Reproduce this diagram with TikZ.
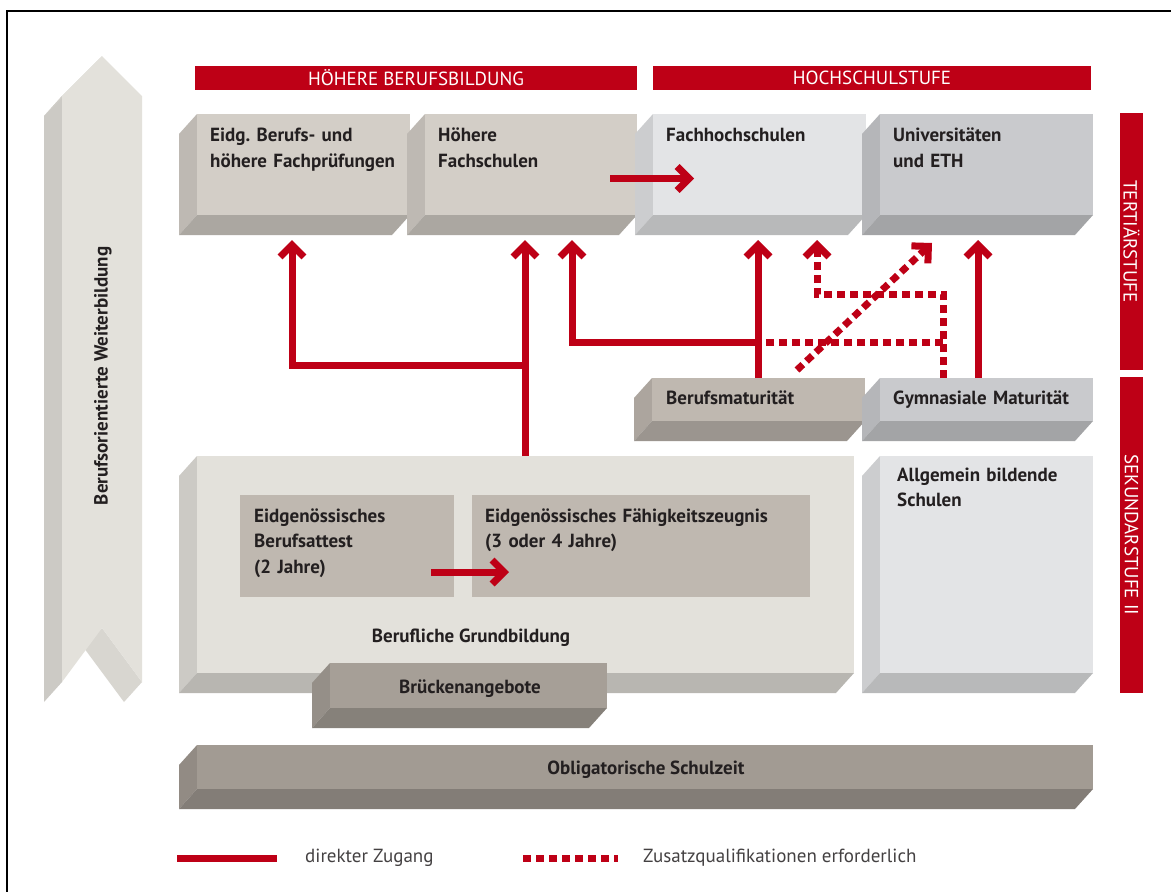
\documentclass[tikz,border=0pt]{standalone}
\usepackage{fontspec}
\setmainfont{PT Sans}
\usepackage{tikz}
\usetikzlibrary{arrows.meta, calc, positioning}
\frenchspacing
\definecolor{color1}{RGB}{190,0,22}
\definecolor{color2}{RGB}{211,206,199}
\definecolor{color3}{RGB}{227,228,230}
\definecolor{color4}{RGB}{201,202,205}
\definecolor{color5}{RGB}{191,184,176}
\definecolor{color6}{RGB}{227,225,219}
\definecolor{color7}{RGB}{166,159,151}
\definecolor{color8}{RGB}{162,155,147}
\definecolor{color9}{RGB}{35,31,32}

\tikzset{
  face/.style={inner sep=0pt, outer sep=0pt},
  boxtext/.style={anchor=base west, text width=230pt, align=left, inner sep=0pt,
    font=\bfseries\fontsize{19}{25.5}\selectfont, text=color9},
  midtext/.style={anchor=base, inner sep=0pt, font=\bfseries\fontsize{19}{20}\selectfont, text=color9},
  banner/.style={face, fill=color1, text=white, font=\fontsize{19}{19}\selectfont},
  legtext/.style={anchor=west, inner sep=0pt, font=\fontsize{19}{19}\selectfont, text=color9!85},
  direct/.style={color1, line width=7pt, -{Straight Barb[length=12pt,width=24pt]}},
  extra/.style={direct, dash pattern=on 8pt off 5pt},
}

% box with a side face and a bottom face: name, x, y, width, height, colour
\newcommand{\slab}[6]{%
  \fill[#6!90!black] (#2,#3) -- ++(-18,20) -- ++(0,#5) -- ++(18,-20) -- cycle;
  \fill[#6!81!black] (#2,#3+#5) -- ++(-18,20) -- ++(#4,0) -- ++(18,-20) -- cycle;
  \node[face, fill=#6, minimum width=#4pt, minimum height=#5pt] (#1) at (#2+#4/2,#3+#5/2) {};
}

\begin{document}
\begin{tikzpicture}[x=1pt, y=-1pt, line join=miter]
\useasboundingbox (0,0) rectangle (1171,892);
\fill[white] (0,0) rectangle (1171,892);
\draw[line width=2pt] (7,892) -- (7,11) -- (1171,11);

% left arrow
\fill[color6!90!black] (62,96) -- (44,116) -- (44,702) -- (62,682) -- cycle;
\fill[color6!92!black] (102,56) -- (84,76) -- (44,116) -- (62,96) -- cycle;
\fill[color6!95!black] (102,628) -- (142,682) -- (124,702) -- (84,648) -- cycle;
\fill[color6] (62,96) -- (102,56) -- (142,96) -- (142,682) -- (102,628) -- (62,682) -- cycle;
\node[midtext, anchor=center, rotate=90] (W) at (103,376) {Berufsorientierte Weiterbildung};

% banners
\node[banner, minimum width=442pt, minimum height=24pt] (HB) at (416,78) {HÖHERE BERUFSBILDUNG};
\node[banner, minimum width=438pt, minimum height=24pt] (HS) at (872,78) {HOCHSCHULSTUFE};
\node[banner, rotate=-90, minimum width=257pt, minimum height=23pt] (T3) at (1131.5,241.5) {TERTIÄRSTUFE};
\node[banner, rotate=-90, minimum width=316pt, minimum height=23pt] (S2) at (1131.5,535) {SEKUNDARSTUFE II};

% tertiary level
\slab{A}{197}{114}{213}{101}{color2}
\slab{B}{425}{114}{212}{101}{color2}
\slab{C}{653}{114}{213}{101}{color3}
\slab{D}{880}{114}{213}{101}{color4}
\node[boxtext] (Atext) at (210,141.5) {Eidg. Berufs- und\\höhere Fachprüfungen};
\node[boxtext] (Btext) at (438,141.5) {Höhere\\Fachschulen};
\node[boxtext] (Ctext) at (666,141.5) {Fachhochschulen};
\node[boxtext] (Dtext) at (893,141.5) {Universitäten\\und ETH};

% maturity
\slab{BM}{652}{378}{213}{43}{color5}
\slab{GM}{880}{378}{213}{43}{color4}
\node[boxtext] (BMtext) at (666,404) {Berufsmaturität};
\node[boxtext] (GMtext) at (893,404) {Gymnasiale Maturität};

% secondary level
\slab{G}{197}{456}{657}{217}{color6}
\slab{S}{880}{456}{213}{217}{color3}
\node[face, fill=color5, minimum width=214pt, minimum height=102pt, anchor=north west] (I1) at (240,495) {};
\node[face, fill=color5, minimum width=338pt, minimum height=102pt, anchor=north west] (I2) at (472,495) {};
\node[boxtext] (I1text) at (254,522) {Eidgenössisches\\Berufsattest\\(2 Jahre)};
\node[boxtext, text width=330pt] (I2text) at (485,522) {Eidgenössisches Fähigkeitszeugnis\\(3 oder 4 Jahre)};
\node[midtext] (Gtext) at (471,642) {Berufliche Grundbildung};
\node[boxtext] (Stext) at (897,481) {Allgemein bildende\\Schulen};
\slab{BR}{330}{663}{277}{45}{color7}
\node[midtext] (BRtext) at (470,693) {Brückenangebote};

% compulsory school
\slab{O}{197}{745}{896}{44}{color8}
\node[midtext] (Otext) at (646,774) {Obligatorische Schulzeit};

% arrows
\coordinate (tA) at (292,240);
\coordinate (tB1) at (525,240);
\coordinate (tB2) at (572,240);
\coordinate (tC1) at (758,240);
\coordinate (tC2) at (817,240);
\coordinate (tD1) at (932,243);
\coordinate (tD2) at (978,240);
\coordinate (j1) at (525,365);
\coordinate (j2) at (758,342);
\coordinate (j3) at (943,342);
\coordinate (j4) at (943,294);
\coordinate (j5) at (797,370);

\draw[direct] (G.north -| tB1) -- (tB1);
\draw[direct] (j1) -| (tA);
\draw[direct] (BM.north -| tC1) -- (tC1);
\draw[direct] (j2) -| (tB2);
\draw[direct] (GM.north -| tD2) -- (tD2);
\draw[extra] (GM.north -| j4) -- (j4) -| (tC2);
\draw[extra, -] (j3) -- (j2);
\draw[extra] (j5) -- (tD1);
\draw[direct] ([shift={(-27,14)}]B.east) -- ([shift={(41,14)}]C.west);
\draw[direct] ([shift={(-23,26)}]I1.east) -- ([shift={(37,26)}]I2.west);

% legend
\coordinate (L1) at (177,858);
\coordinate (L2) at (277,858);
\coordinate (L3) at (523,858);
\coordinate (L4) at (618,858);
\draw[direct, -] (L1) -- (L2);
\node[legtext] (Ltext1) at (305,858) {direkter Zugang};
\draw[extra, -] (L3) -- (L4);
\node[legtext] (Ltext2) at (643,858) {Zusatzqualifikationen erforderlich};
\end{tikzpicture}
\end{document}
